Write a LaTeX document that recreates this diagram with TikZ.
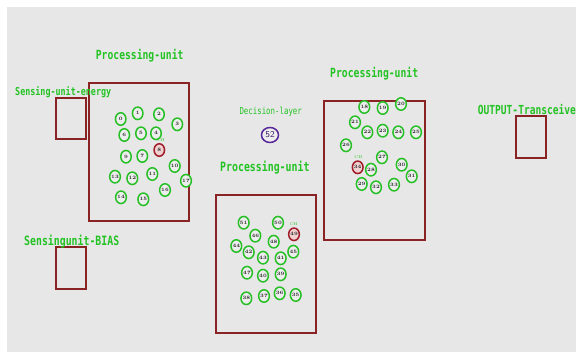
\documentclass[tikz,border=0pt]{standalone}
\usepackage{fontspec}
\usepackage{graphicx}
\usetikzlibrary{shapes.geometric}
\newfontfamily\monofam{DejaVu Sans Mono}
\definecolor{bggray}{HTML}{E7E7E7}
\definecolor{labgreen}{HTML}{22C322}
\definecolor{nodegreen}{HTML}{26BF26}
\definecolor{nodefill}{HTML}{EDEDED}
\definecolor{boxred}{HTML}{8A2424}
\definecolor{chred}{HTML}{A01C28}
\definecolor{chfill}{HTML}{F0D0D0}
\definecolor{dpurple}{HTML}{55279A}
% green label text, stretched to a given width and a little taller
\newcommand{\fitlab}[2]{\resizebox{#1pt}{!}{\scalebox{1}[1.3]{\monofam #2}}}
\tikzset{
  sensor/.style={ellipse, draw=nodegreen, line width=1.5pt, fill=nodefill,
    minimum width=10.5pt, minimum height=12.5pt, inner sep=0pt,
    font=\fontsize{5}{5}\selectfont\bfseries, text=black!85},
  headnode/.style={sensor, draw=chred, fill=chfill},
  chtag/.style={inner sep=0pt, text=labgreen, font=\fontsize{4}{4}\selectfont},
  unitbox/.style={draw=boxred, line width=1.3pt, inner sep=0pt},
  lab/.style={inner sep=0pt, text=labgreen, anchor=west},
  decision/.style={ellipse, draw=dpurple, line width=1.5pt, fill=nodefill,
    minimum width=17pt, minimum height=15pt, inner sep=0pt, text=dpurple!70!black,
    font=\fontsize{9}{9}\selectfont\sffamily}
}
\begin{document}
\begin{tikzpicture}[x=1pt,y=-1pt]
\useasboundingbox (0,0) rectangle (576,352);
\fill[white] (0,0) rectangle (576,352);
\fill[bggray] (7,7) rectangle (576,352);

% unit boxes
\node[unitbox, minimum width=100pt, minimum height=138pt] (pu1) at (139,152) {};
\node[unitbox, minimum width=100pt, minimum height=138pt] (pu2) at (266,264) {};
\node[unitbox, minimum width=101pt, minimum height=139pt] (pu3) at (374.5,170.5) {};
\node[unitbox, minimum width=30pt, minimum height=41pt] (sensE) at (71,118.5) {};
\node[unitbox, minimum width=30pt, minimum height=42pt] (sensB) at (71,268) {};
\node[unitbox, minimum width=30pt, minimum height=42pt] (outT) at (531,137) {};

% labels
\node[lab] (lpu1) at (95.7,55.7) {\fitlab{87.6}{\bfseries Processing-unit}};
\node[lab] (lsensE) at (15,92.3) {\fitlab{96}{\bfseries Sensing-unit-energy}};
\node[lab] (lpu3) at (330,74) {\fitlab{88}{\bfseries Processing-unit}};
\node[lab] (ldec) at (239.3,111.7) {\fitlab{62.4}{Decision-layer}};
\node[lab] (lpu2) at (220,167.7) {\fitlab{89.3}{\bfseries Processing-unit}};
\node[lab] (lsensB) at (24,241.7) {\fitlab{95}{\bfseries Sensingunit-BIAS}};
\node[lab] (lout) at (477.7,110) {\fitlab{98}{\bfseries OUTPUT-Transceive}};

% decision node
\node[decision] (dec) at (270,135) {52};

% first processing unit
\foreach \n/\x/\y in {0/120.7/119, 1/137.7/113.3, 2/159/114.3, 3/177.3/124.3,
  6/124.3/135, 5/141/133.3, 4/156/133.3, 9/126/156.7, 7/142.3/156,
  10/174.7/166, 13/115/176.7, 12/132.3/178.3, 11/152.3/174, 17/186/180.7,
  14/121/197.3, 15/143.3/199.3, 16/165/190}
  \node[sensor] (s\n) at (\x,\y) {\n};
\node[headnode] (s8) at (159.3,150) {8};
\node[chtag] (ch8) at (161,140.5) {CH};

% second processing unit
\foreach \n/\x/\y in {51/243.7/222.7, 50/278/222.7, 46/255.3/235.7, 48/273.7/241.7,
  44/236.3/246, 42/248.7/252.3, 43/263/257.7, 41/280.7/258.3, 45/293.3/251.7,
  47/247/272.7, 40/263/275.7, 39/280.7/274.3, 38/246.3/298.3, 37/264/296,
  36/279.7/293.3, 35/295.7/295}
  \node[sensor] (s\n) at (\x,\y) {\n};
\node[headnode] (s49) at (294,234.3) {49};
\node[chtag] (ch49) at (293.7,224.5) {CH};

% third processing unit
\foreach \n/\x/\y in {18/364.3/107, 19/382.7/108, 20/401/104, 21/355/122.3,
  22/367.3/132.3, 23/382.7/130.7, 24/398.3/132.3, 25/416/132.3, 26/346/145.3,
  27/382/157.3, 30/401.7/164.7, 28/371/169.7, 31/411.7/176.3, 29/361.7/184,
  32/376/187.3, 33/394/184.7}
  \node[sensor] (s\n) at (\x,\y) {\n};
\node[headnode] (s34) at (357.7,167.3) {34};
\node[chtag] (ch34) at (358.3,157) {CH};
\end{tikzpicture}
\end{document}
